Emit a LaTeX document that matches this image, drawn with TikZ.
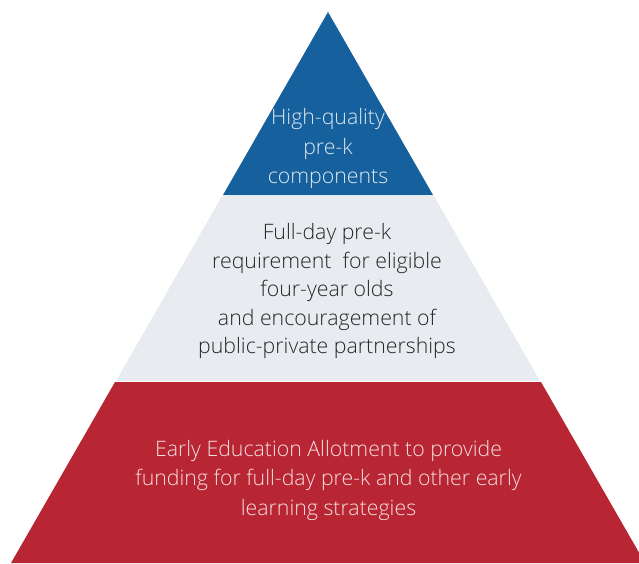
\documentclass[tikz,border=0pt]{standalone}
\usepackage{fontspec}
\setmainfont{Open Sans Light}
\definecolor{pyrblue}{HTML}{16609E}
\definecolor{pyrgray}{HTML}{E8ECF0}
\definecolor{pyrred}{HTML}{B82533}
\definecolor{pyrtext}{HTML}{262626}

\begin{document}
\begin{tikzpicture}[x=1pt,y=-1pt,
  lbl/.style={align=center,inner sep=0pt,font=\fontsize{21.3}{29.5}\selectfont}]
  \useasboundingbox (0,0) rectangle (639,563);
  \clip (0,0) rectangle (639,563);
  % layers
  \fill[pyrblue](328,12)--(433,195)--(223,195)--cycle;
  \fill[pyrgray](222,196)--(434,196)--(540,381)--(116,381)--cycle;
  \fill[pyrred](115,382)--(541,382)--(645,563)--(11,563)--cycle;
  % labels
  \node[lbl,text=white!85!pyrblue](top) at (328,148.5){High-quality\\pre-k\\components};
  \node[lbl,text=pyrtext,font=\fontsize{21.3}{28.5}\selectfont](mid) at (327,291){Full-day pre-k\\requirement\ \ for eligible\\four-year olds\\and encouragement of\\public-private partnerships};
  \node[lbl,text=white!85!pyrred](base) at (328.5,480){Early Education Allotment to provide\\funding for full-day pre-k and other early\\learning strategies};
\end{tikzpicture}
\end{document}
